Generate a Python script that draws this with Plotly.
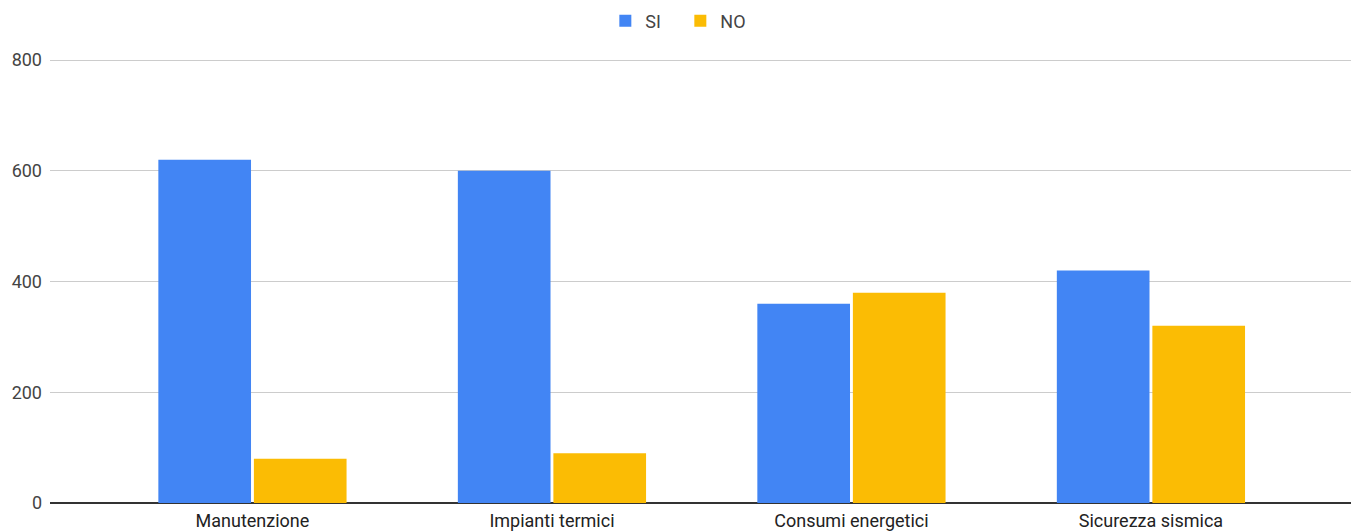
import plotly.graph_objects as go

categories = ["Manutenzione", "Impianti termici", "Consumi energetici", "Sicurezza sismica"]
si_values = [620, 600, 360, 420]
no_values = [80, 90, 380, 320]
y_ticks = [0, 200, 400, 600, 800]

fig = go.Figure()
fig.add_trace(go.Bar(name="SI", x=categories, y=si_values, marker=dict(color="#4285F4", line=dict(width=0))))
fig.add_trace(go.Bar(name="NO", x=categories, y=no_values, marker=dict(color="#FBBC04", line=dict(width=0))))

fig.update_layout(
    width=1361, height=531,
    margin=dict(l=42, r=18, t=51, b=36, autoexpand=False),
    paper_bgcolor="white", plot_bgcolor="white",
    font=dict(family="Roboto", size=18, color="#444444"),
    barmode="group", bargap=0.362, bargroupgap=0.03,
    legend=dict(orientation="h", xref="container", yref="container", x=0.494, xanchor="center",
                y=0.9755, yanchor="middle", font=dict(size=18, color="#444444"),
                itemwidth=30, entrywidth=30, entrywidthmode="pixels", traceorder="normal"),
    xaxis=dict(range=[-0.676, 3.668], showgrid=False, showline=False, ticks="", automargin=False,
               ticklabelstandoff=5, tickfont=dict(size=18, color="#222222")),
    yaxis=dict(range=[0, 802], tickvals=y_ticks, showgrid=True, gridcolor="#cccccc", gridwidth=1,
               zeroline=True, zerolinecolor="#333333", zerolinewidth=2, showline=False, ticks="",
               automargin=False, ticklabelstandoff=7, tickfont=dict(size=18, color="#444444")),
    showlegend=True,
)

fig.write_html("out.html")
